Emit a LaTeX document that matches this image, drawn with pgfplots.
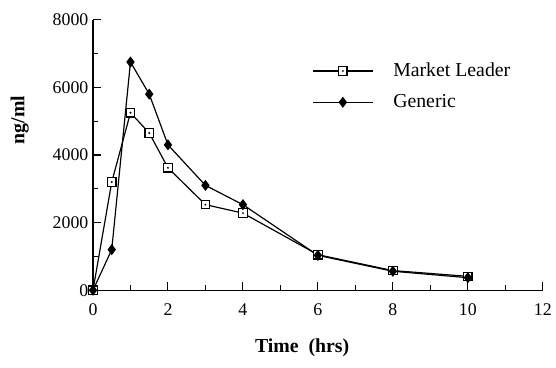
\documentclass[border=0pt]{standalone}
\usepackage{pgfplots}
\pgfplotsset{compat=1.18}
\usepackage{fontspec}
\setmainfont{Liberation Serif}
\pgfdeclareplotmark{dotsquare}{%
  \pgfpathrectangle{\pgfqpoint{-\pgfplotmarksize}{-\pgfplotmarksize}}{\pgfqpoint{2\pgfplotmarksize}{2\pgfplotmarksize}}%
  \pgfsetfillcolor{white}%
  \pgfusepathqfillstroke
  \pgfpathcircle{\pgfpointorigin}{0.8pt}%
  \pgfsetfillcolor{black}%
  \pgfusepathqfill
}
\begin{document}
\begin{tikzpicture}
\begin{axis}[
  name=ax,
  scale only axis,
  width=341pt, height=205pt,
  xmin=0, xmax=12, ymin=0, ymax=8000,
  axis x line=bottom, axis y line=left,
  axis line style={-, line width=0.8pt},
  xtick={0,2,...,12}, minor xtick={1,3,...,11},
  ytick={0,2000,...,8000}, minor ytick={1000,3000,...,7000},
  tick align=inside,
  major tick length=6pt, minor tick length=4pt,
  tick style={line width=0.8pt, black},
  scaled y ticks=false,
  /pgf/number format/assume math mode=true,
  /pgf/number format/1000 sep={},
  tick label style={font=\fontsize{13.5}{15}\selectfont},
  xticklabel style={yshift=-7pt},
  xlabel={\textbf{Time\ \ (hrs)}},
  ylabel={\textbf{ng/ml}},
  label style={font=\fontsize{15}{17}\selectfont},
  xlabel style={at={(axis description cs:0.465,0)}, yshift=-44pt, anchor=center},
  ylabel style={at={(axis description cs:-0.163,0.63)}, anchor=center},
  legend style={draw=none, fill=none, at={(0.478,0.86)}, anchor=north west,
    font=\fontsize{15}{17}\selectfont, row sep=8pt,
    /tikz/every odd column/.append style={column sep=13pt}},
  legend cell align=left,
  legend image code/.code={%
    \draw[mark repeat=2,mark phase=2,#1] plot coordinates {(0cm,0cm) (0.8cm,0cm) (1.6cm,0cm)};},
]
\addplot[black, line width=0.9pt, mark=dotsquare, mark size=3.2pt, mark options={solid}] coordinates {
(0,0) (0.5,3200) (1,5250) (1.5,4650) (2,3620) (3,2530) (4,2280) (6,1050) (8,580) (10,410)};
\addlegendentry{Market Leader}
\addplot[black, line width=0.9pt, mark=diamond*, mark size=3.5pt, mark options={solid, fill=black}] coordinates {
(0,0) (0.5,1200) (1,6750) (1.5,5800) (2,4300) (3,3100) (4,2530) (6,1030) (8,560) (10,370)};
\addlegendentry{Generic}
\end{axis}
\pgfresetboundingbox
\path[use as bounding box] ([xshift=-70.5pt,yshift=-58.5pt]ax.south west) rectangle ([xshift=10pt,yshift=15pt]ax.north east);
\end{tikzpicture}
\end{document}
